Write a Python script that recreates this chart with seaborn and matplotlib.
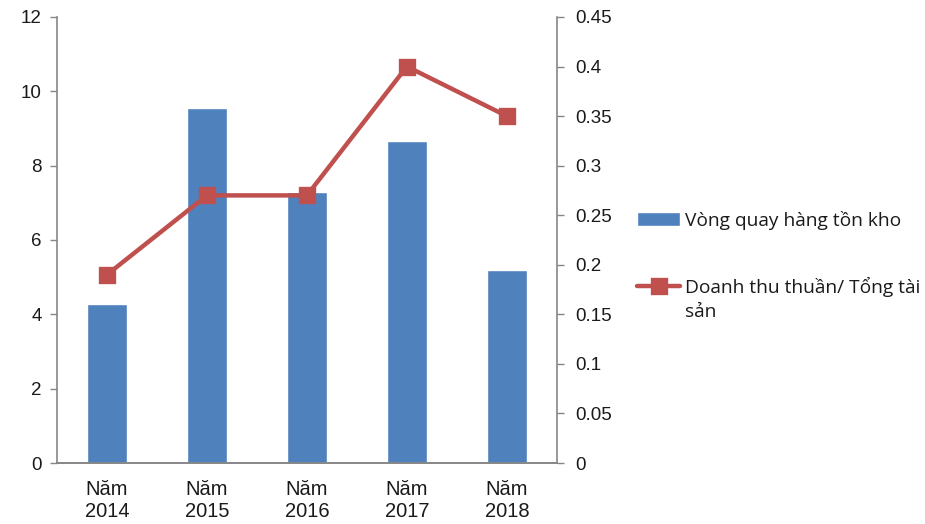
import numpy as np
import pandas as pd
import seaborn as sns
import matplotlib.pyplot as plt

# du lieu doc tu bieu do
nam = ["Năm\n2014", "Năm\n2015", "Năm\n2016", "Năm\n2017", "Năm\n2018"]
vong_quay_htk = [4.28, 9.55, 7.29, 8.66, 5.19]
dt_tong_ts = [0.19, 0.27, 0.27, 0.40, 0.35]

ten_cot = "Vòng quay hàng tồn kho"
ten_duong = "Doanh thu thuần/ Tổng tài"

mau_cot = "#4F81BD"
mau_duong = "#C0504D"
mau_truc = "#868686"

sns.set_theme(style="white")
plt.rcParams["font.family"] = ["Liberation Sans", "DejaVu Sans"]

df = pd.DataFrame({"nam": nam, "htk": vong_quay_htk, "dt": dt_tong_ts})

fig, ax = plt.subplots(figsize=(9.25, 5.24), dpi=100)
fig.subplots_adjust(left=0.0616, right=0.602, top=0.9676, bottom=0.1164)

sns.barplot(data=df, x="nam", y="htk", color=mau_cot, saturation=1,
            width=0.4, ax=ax, label=ten_cot)

ax2 = ax.twinx()
sns.pointplot(data=df, x="nam", y="dt", color=mau_duong, markers="s",
              markersize=10, linewidth=3.2, ax=ax2, label=ten_duong)

ax.set_ylim(0, 12)
ax.set_yticks(np.arange(0, 13, 2))
ax2.set_ylim(0, 0.45)
ax2.set_yticks(np.arange(0, 0.46, 0.05))
ax2.set_yticklabels(["0", "0.05", "0.1", "0.15", "0.2", "0.25", "0.3", "0.35", "0.4", "0.45"])
ax.set_xlim(-0.5, 4.5)
ax2.set_xlim(-0.5, 4.5)

for a in (ax, ax2):
    a.set_xlabel("")
    a.set_ylabel("")
    for s in a.spines.values():
        s.set_color(mau_truc)
        s.set_linewidth(1.2)
    a.spines["top"].set_visible(False)
    a.tick_params(axis="y", length=5, width=1, color=mau_truc, labelsize=13.5,
                  labelcolor="#1a1a1a", pad=6)
    a.tick_params(axis="x", length=0, labelsize=14.5, labelcolor="#1a1a1a", pad=12)
    a.grid(False)
ax.spines["right"].set_visible(False)
ax2.spines["left"].set_visible(False)
ax.tick_params(axis="y", left=True)
ax2.tick_params(axis="y", right=True, pad=8)
for lb in ax2.get_yticklabels():
    lb.set_horizontalalignment("left")

for lb in ax.get_xticklabels():
    lb.set_linespacing(1.25)

h1, l1 = ax.get_legend_handles_labels()
h2, l2 = ax2.get_legend_handles_labels()
if ax.get_legend():
    ax.get_legend().remove()
if ax2.get_legend():
    ax2.get_legend().remove()
leg = fig.legend(h1 + h2, l1 + l2, loc="upper left", bbox_to_anchor=(637 / 925, 0.598),
                 frameon=False, borderpad=0, borderaxespad=0,
                 handlelength=2.25, handletextpad=0.25, labelspacing=2.45,
                 prop={"family": ["Open Sans", "DejaVu Sans"], "size": 13.8})
fig.text(0.7405, 0.4046, "sản", family=["Open Sans", "DejaVu Sans"], size=13.8,
         color="#1a1a1a", va="center")
for t in leg.get_texts():
    t.set_color("#1a1a1a")

fig.savefig("out.png", dpi=100)
